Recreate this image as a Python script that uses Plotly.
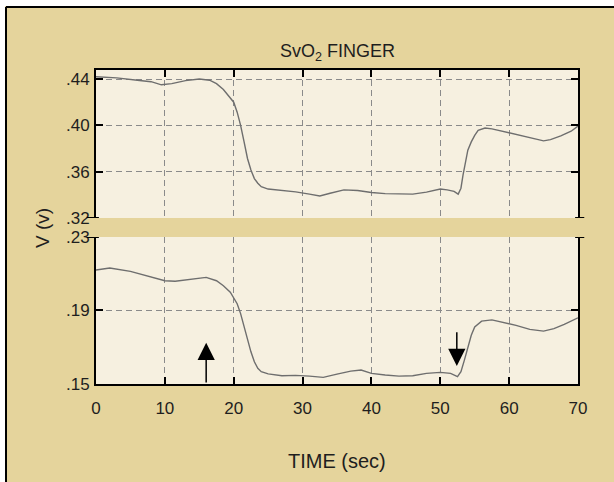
import plotly.graph_objects as go

# ---------------- data ----------------
t_top = [0, 3, 6, 8, 9.5, 11, 13, 15, 16.5, 17.5, 18.5, 19, 20, 20.5, 21, 21.5, 22, 22.5,
         23, 23.5, 24, 25, 27, 29, 31, 32.5, 34, 36, 38, 40, 42, 44, 46, 48, 50, 51, 52,
         52.6, 53, 53.3, 53.7, 54, 54.5, 55, 55.5, 56.5, 57.5, 59, 61, 63, 65, 66, 67.5, 69, 70]
v_top = [.442, .441, .439, .4377, .435, .436, .4386, .440, .439, .436, .431, .427, .420, .4114,
         .400, .386, .3714, .3614, .354, .350, .347, .345, .344, .3426, .3406, .339, .3414, .3443,
         .3437, .342, .341, .3406, .3406, .3423, .345, .3443, .343, .3406, .3457, .357, .3714,
         .3786, .3857, .3914, .3957, .3977, .397, .3949, .392, .3891, .3866, .3877, .3909, .3949, .3994]

t_bot = [0, 2, 5, 8, 10, 11.5, 14, 16, 17.5, 18.5, 19.5, 20.5, 21, 21.5, 22, 22.5, 23, 23.5,
         24, 25, 27, 29, 31, 33, 35, 37, 38.5, 40, 42, 44, 46, 48, 50, 51.5, 52.5, 53, 53.5,
         54, 54.5, 55, 56, 57.5, 59, 61, 63, 65, 66.5, 68, 70]
v_bot = [.212, .2131, .2113, .208, .2062, .2059, .207, .208, .2062, .2035, .200, .1937, .1883,
         .1811, .1738, .1675, .1621, .1585, .1567, .1555, .1545, .1547, .1543, .1536, .1554,
         .157, .1576, .1558, .1549, .1543, .1545, .1558, .1563, .1558, .154, .1567, .163, .1702,
         .1765, .181, .1842, .1849, .1837, .1819, .1797, .1788, .1801, .1824, .186]

x_ticks = [0, 10, 20, 30, 40, 50, 60, 70]
top_ticks = [.32, .36, .40, .44]
top_labels = [".32", ".36", ".40", ".44"]
bot_ticks = [.15, .19, .23]
bot_labels = [".15", ".19", ".23"]

# arrows: (time, tail value, head value) in the lower panel
arrow_t = [16, 52.4]
arrow_tail = [.150, .1790]
arrow_head = [.1725, .1598]

TITLE = "SvO<sub>2</sub> FINGER"
XTITLE = "TIME (sec)"
YTITLE = "V (v)"

# ---------------- style ----------------
TAN = "#E5D49C"
CREAM = "#F6F0E0"
GRID = "#8a8a8a"
LINE = "#6e6e6e"
FONT = "Liberation Sans, Arial, sans-serif"
TXT = "#1e1e1e"

fig = go.Figure()
fig.add_trace(go.Scatter(x=t_top, y=v_top, mode="lines", line=dict(color=LINE, width=1.4),
                         xaxis="x2", yaxis="y2", hoverinfo="skip", showlegend=False))
fig.add_trace(go.Scatter(x=t_bot, y=v_bot, mode="lines", line=dict(color=LINE, width=1.4),
                         xaxis="x", yaxis="y", hoverinfo="skip", showlegend=False))

common_x = dict(range=[0, 70], tickvals=x_ticks, showgrid=True, gridcolor=GRID, griddash="6px,4px",
                gridwidth=1, zeroline=False, showline=True, linecolor="black", linewidth=2,
                ticks="inside", ticklen=7, tickwidth=2, tickcolor="black")
common_y = dict(showgrid=True, gridcolor=GRID, griddash="6px,4px", gridwidth=1, zeroline=False,
                showline=True, linecolor="black", linewidth=2, mirror="ticks",
                ticks="inside", ticklen=7, tickwidth=2, tickcolor="black",
                tickfont=dict(family=FONT, size=17, color=TXT), ticklabelstandoff=1)

fig.update_layout(
    width=614, height=482,
    paper_bgcolor=TAN, plot_bgcolor=CREAM,
    margin=dict(l=96, r=36, t=70, b=98),
    xaxis=dict(**common_x, anchor="y", side="bottom", showticklabels=True,
               tickfont=dict(family=FONT, size=17, color=TXT), ticklabelstandoff=8),
    xaxis2=dict(**common_x, anchor="y2", side="top", matches="x", showticklabels=False),
    yaxis=dict(**common_y, domain=[0, 0.4682], range=[.15, .23], tickvals=bot_ticks,
               ticktext=bot_labels, anchor="x"),
    yaxis2=dict(**common_y, domain=[0.5287, 1], range=[.32, .4478], tickvals=top_ticks,
                ticktext=top_labels, anchor="x2"),
    showlegend=False,
)

# titles
fig.add_annotation(text=TITLE, xref="paper", yref="paper", x=0.5, y=1 + (70 - 53) / 314,
                   showarrow=False, font=dict(family=FONT, size=18, color=TXT),
                   xanchor="center", yanchor="middle")
fig.add_annotation(text=XTITLE, xref="paper", yref="paper", x=0.5, y=(384 - 461) / 314,
                   showarrow=False, font=dict(family=FONT, size=20, color=TXT),
                   xanchor="center", yanchor="middle")
fig.add_annotation(text=YTITLE, xref="paper", yref="paper", x=(42 - 96) / 482, y=(384 - 228) / 314,
                   textangle=-90, showarrow=False, font=dict(family=FONT, size=19, color=TXT),
                   xanchor="center", yanchor="middle")

# arrows
for t, a, h in zip(arrow_t, arrow_tail, arrow_head):
    fig.add_annotation(x=t, y=h, ax=t, ay=a, xref="x", yref="y", axref="x", ayref="y",
                       text="", showarrow=True, arrowhead=2, arrowsize=2.3, arrowwidth=1.5,
                       arrowcolor="black")

# outer frame: white outside, black border line
fig.add_shape(type="rect", xref="paper", yref="paper", x0=-0.5, x1=(5 - 96) / 482, y0=-1, y1=2,
              fillcolor="white", line=dict(width=0), layer="below")
fig.add_shape(type="rect", xref="paper", yref="paper", x0=-0.5, x1=1.5, y0=1 + (70 - 6) / 314, y1=2,
              fillcolor="white", line=dict(width=0), layer="below")
fig.add_shape(type="line", xref="paper", yref="paper", x0=(6 - 96) / 482, x1=(6 - 96) / 482,
              y0=-1, y1=1 + (70 - 7) / 314, line=dict(color="black", width=2))
fig.add_shape(type="line", xref="paper", yref="paper", x0=(6 - 96) / 482, x1=1.5,
              y0=1 + (70 - 7) / 314, y1=1 + (70 - 7) / 314, line=dict(color="black", width=2))

# axis-break marks
for yref, val in (("y2", top_ticks[0]), ("y", bot_ticks[-1])):
    fig.add_shape(type="line", xref="x domain", yref=yref, x0=-0.019, x1=0.006, y0=val, y1=val,
                  line=dict(color="black", width=2))
    fig.add_shape(type="line", xref="x domain", yref=yref, x0=0.994, x1=1.013, y0=val, y1=val,
                  line=dict(color="black", width=2))

fig.write_html("out.html")
